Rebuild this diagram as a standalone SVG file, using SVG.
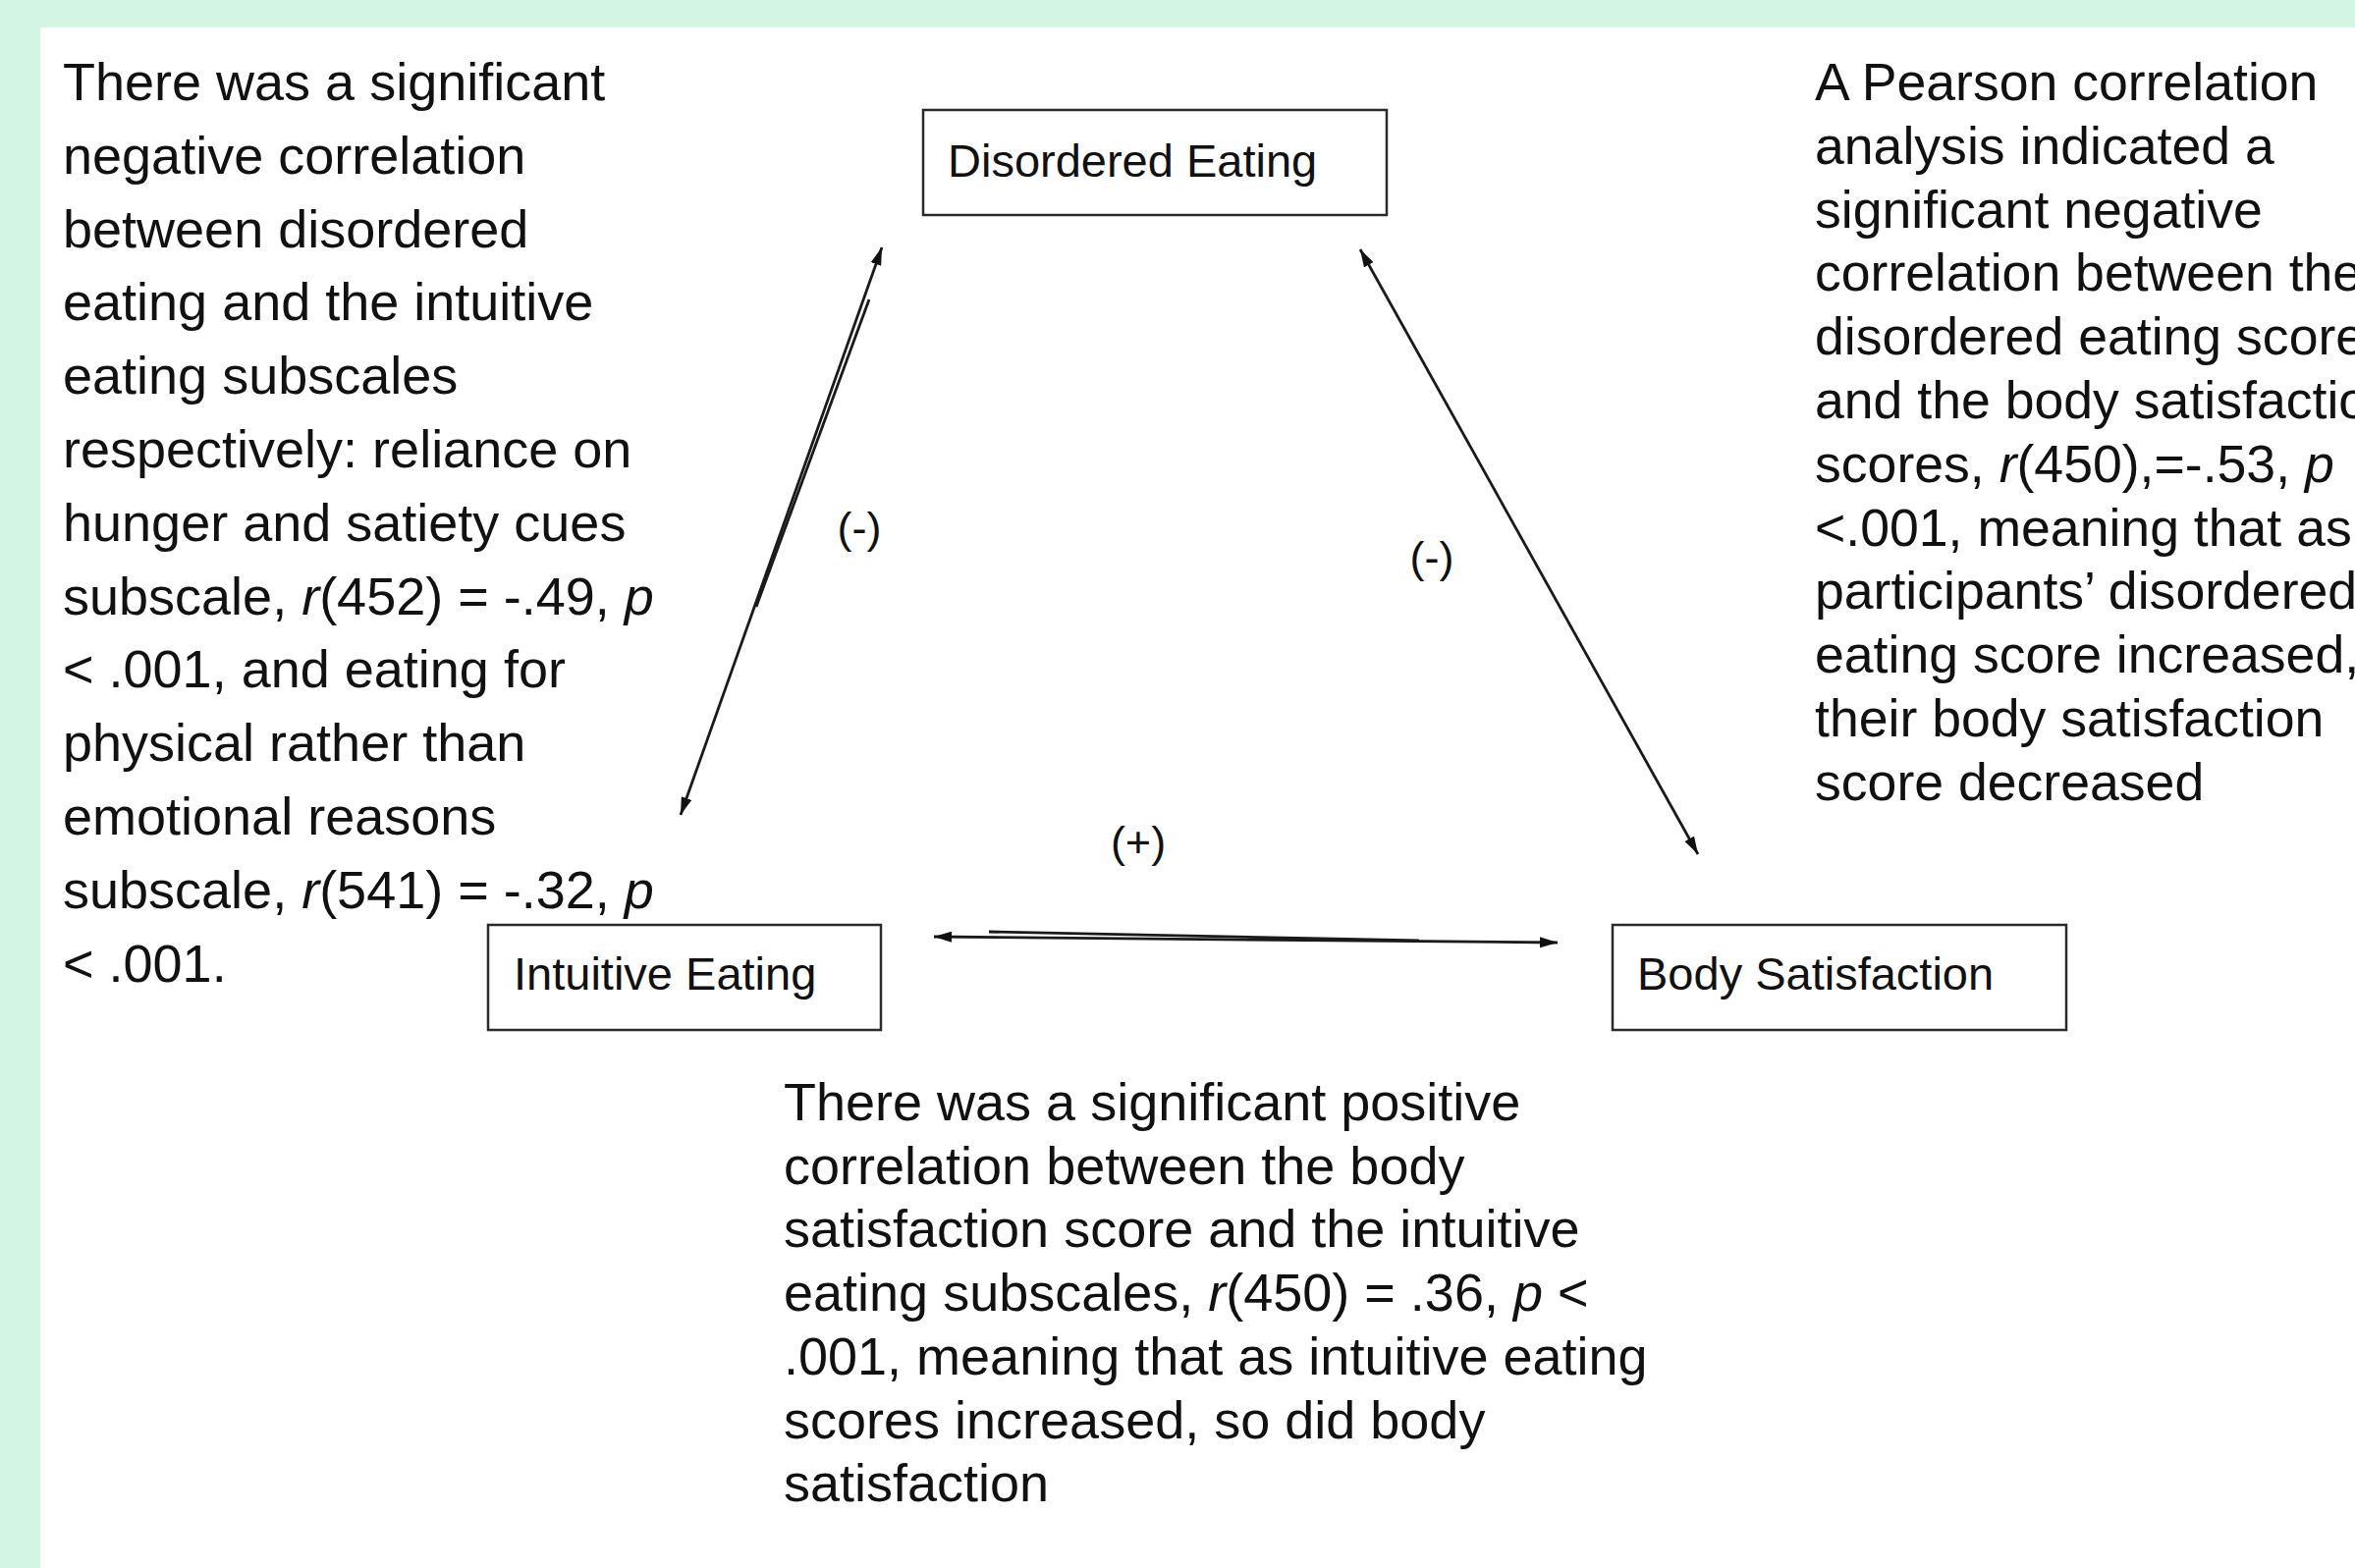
<svg xmlns="http://www.w3.org/2000/svg" width="2398" height="1597" viewBox="0 0 2398 1597">
<style>
.bg{fill:#d2f5e4}
.txt{font-family:"Liberation Sans",Arial,sans-serif;font-size:54px;fill:#111}
.rt{font-size:53.6px}
.nlabel{font-family:"Liberation Sans",Arial,sans-serif;font-size:47px;fill:#111}
.box{fill:#fff;stroke:#2a2a2a;stroke-width:2.5}
.sign{font-family:"Liberation Sans",Arial,sans-serif;font-size:45px;fill:#111;text-anchor:middle}
.conn{stroke:#1a1a1a;stroke-width:2.8;fill:none}
.it{font-style:italic}
</style>
<defs>
<marker id="ah" viewBox="0 0 18 11" refX="18" refY="5.5" markerWidth="18" markerHeight="11" markerUnits="userSpaceOnUse" orient="auto-start-reverse">
<path d="M0,0 L18,5.5 L0,11 z" fill="#111"/>
</marker>
</defs>
<rect class="bg" x="0" y="0" width="2398" height="1597"/>
<rect x="41" y="28" width="2357" height="1569" fill="#fff"/>

<g id="left-text" class="txt">
<text x="64" y="102">There was a significant</text>
<text x="64" y="176.8">negative correlation</text>
<text x="64" y="251.6">between disordered</text>
<text x="64" y="326.4">eating and the intuitive</text>
<text x="64" y="401.2">eating subscales</text>
<text x="64" y="476">respectively: reliance on</text>
<text x="64" y="550.8">hunger and satiety cues</text>
<text x="64" y="625.6">subscale, <tspan class="it">r</tspan>(452) = -.49, <tspan class="it">p</tspan></text>
<text x="64" y="700.4">&lt; .001, and eating for</text>
<text x="64" y="775.2">physical rather than</text>
<text x="64" y="850">emotional reasons</text>
<text x="64" y="924.8">subscale, <tspan class="it">r</tspan>(541) = -.32, <tspan class="it">p</tspan></text>
<text x="64" y="999.6">&lt; .001.</text>
</g>

<g id="right-text" class="txt rt">
<text x="1848" y="102">A Pearson correlation</text>
<text x="1848" y="166.8">analysis indicated a</text>
<text x="1848" y="231.6">significant negative</text>
<text x="1848" y="296.4">correlation between the</text>
<text x="1848" y="361.2">disordered eating score</text>
<text x="1848" y="426">and the body satisfaction</text>
<text x="1848" y="490.8">scores, <tspan class="it">r</tspan>(450),=-.53, <tspan class="it">p</tspan></text>
<text x="1848" y="555.6">&lt;.001, meaning that as</text>
<text x="1848" y="620.4">participants’ disordered</text>
<text x="1848" y="685.2">eating score increased,</text>
<text x="1848" y="750">their body satisfaction</text>
<text x="1848" y="814.8">score decreased</text>
</g>

<g id="bottom-text" class="txt">
<text x="798" y="1141">There was a significant positive</text>
<text x="798" y="1205.7">correlation between the body</text>
<text x="798" y="1270.4">satisfaction score and the intuitive</text>
<text x="798" y="1335.1">eating subscales, <tspan class="it">r</tspan>(450) = .36, <tspan class="it">p</tspan> &lt;</text>
<text x="798" y="1399.8">.001, meaning that as intuitive eating</text>
<text x="798" y="1464.5">scores increased, so did body</text>
<text x="798" y="1529.2">satisfaction</text>
</g>

<g id="connectors">
<line class="conn" x1="693" y1="830" x2="898" y2="252" marker-start="url(#ah)" marker-end="url(#ah)"/>
<line class="conn" x1="885" y1="305" x2="770" y2="618" stroke-width="2"/>
<line class="conn" x1="1385" y1="254" x2="1729" y2="870" stroke-width="3.6" marker-start="url(#ah)" marker-end="url(#ah)"/>
<line class="conn" x1="951" y1="954" x2="1586" y2="960" marker-start="url(#ah)" marker-end="url(#ah)"/>
<line class="conn" x1="1007" y1="949" x2="1445" y2="958" stroke-width="2"/>
</g>

<g id="sign-de-ie"><text class="sign" x="875" y="553">(-)</text></g>
<g id="sign-de-bs"><text class="sign" x="1458" y="583">(-)</text></g>
<g id="sign-ie-bs"><text class="sign" x="1159" y="873">(+)</text></g>

<g id="node-disordered-eating">
<rect class="box" x="940" y="112" width="472" height="107"/>
<text class="nlabel" x="965" y="180">Disordered Eating</text>
</g>
<g id="node-intuitive-eating">
<rect class="box" x="497" y="942" width="400" height="107"/>
<text class="nlabel" x="523" y="1008">Intuitive Eating</text>
</g>
<g id="node-body-satisfaction">
<rect class="box" x="1642" y="942" width="462" height="107"/>
<text class="nlabel" x="1667" y="1008">Body Satisfaction</text>
</g>
</svg>
